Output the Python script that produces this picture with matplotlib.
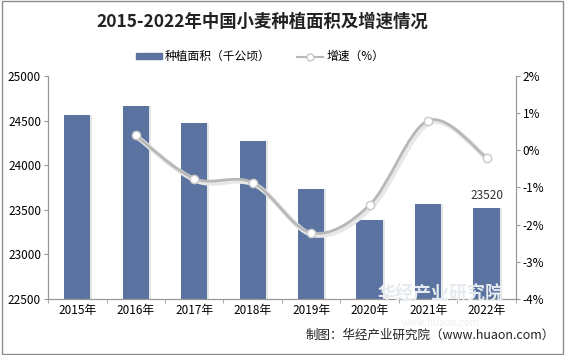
import matplotlib.pyplot as plt
from matplotlib.path import Path
from matplotlib.patches import PathPatch, Rectangle
from matplotlib.lines import Line2D
from matplotlib.ticker import FuncFormatter, MultipleLocator
from matplotlib.transforms import ScaledTranslation
import numpy as np

plt.rcParams['font.family'] = ['Noto Sans CJK SC', 'DejaVu Sans']

years = ["2015年", "2016年", "2017年", "2018年", "2019年", "2020年", "2021年", "2022年"]
area = [24567, 24666, 24478, 24266, 23728, 23380, 23568, 23520]
growth_years = ["2016年", "2017年", "2018年", "2019年", "2020年", "2021年", "2022年"]
growth = [0.40, -0.76, -0.87, -2.22, -1.47, 0.80, -0.20]

BAR = "#5b73a0"
LINE = "#b8b8b8"

fig = plt.figure(figsize=(5.65, 3.55), dpi=100)
fig.patches.append(Rectangle((0.003, 0.003), 0.994, 0.994, transform=fig.transFigure,
                             fill=False, edgecolor="#8c8c8c", lw=1.0))
ax = fig.add_axes([0.085, 0.158, 0.828, 0.628])
ax2 = ax.twinx()

x = np.arange(len(years))
# soft shadow then bars
ax.bar(x + 0.03, area, width=0.45, color="#e6e6e6", zorder=1)
ax.bar(x, area, width=0.45, color=BAR, zorder=2)
ax.set_ylim(22500, 25000)
ax.set_xlim(-0.5, len(years) - 0.5)
ax.yaxis.set_major_locator(MultipleLocator(500))
ax.set_xticks(x)
ax.set_xticklabels(years)
ax.set_xticks(np.arange(-0.5, len(years), 1), minor=True)
ax.tick_params(axis="x", which="major", length=0, labelsize=8.5, pad=4)
ax.tick_params(axis="x", which="minor", length=3, color="#999999")
ax.tick_params(axis="y", labelsize=8.5, length=3, color="#999999", pad=2)
ax.annotate(f"{area[-1]}", (x[-1], area[-1]), xytext=(0, 4), textcoords="offset points",
            ha="center", va="bottom", fontsize=8.5, color="#333333")

# smooth growth curve through the points (Catmull-Rom as bezier)
gx = np.array([years.index(y) for y in growth_years], dtype=float)
gy = np.array(growth)
verts = [(gx[0], gy[0])]
codes = [Path.MOVETO]
for i in range(len(gx) - 1):
    p0 = (gx[i - 1], gy[i - 1]) if i > 0 else (gx[i], gy[i])
    p1 = (gx[i], gy[i])
    p2 = (gx[i + 1], gy[i + 1])
    p3 = (gx[i + 2], gy[i + 2]) if i + 2 < len(gx) else p2
    t = 1 / 6
    c1 = (p1[0] + (p2[0] - p0[0]) * t, p1[1] + (p2[1] - p0[1]) * t)
    c2 = (p2[0] - (p3[0] - p1[0]) * t, p2[1] - (p3[1] - p1[1]) * t)
    verts += [c1, c2, p2]
    codes += [Path.CURVE4] * 3
path = Path(verts, codes)
ax2.add_patch(PathPatch(path, fill=False, edgecolor="#e8e8e8", lw=3.5, zorder=3,
                        transform=ax2.transData + ScaledTranslation(1.5 / 72, -1.5 / 72, fig.dpi_scale_trans)))
ax2.add_patch(PathPatch(path, fill=False, edgecolor=LINE, lw=2, zorder=4))
ax2.plot(gx, gy, "o", ms=6, mfc="white", mec="#c8c8c8", mew=1, zorder=5)
ax2.set_ylim(-4, 2)
ax2.yaxis.set_major_locator(MultipleLocator(1))
ax2.yaxis.set_major_formatter(FuncFormatter(lambda v, p: f"{v:.0f}%"))
ax2.tick_params(axis="y", labelsize=8.5, length=3, color="#999999", pad=2)

for a in (ax, ax2):
    a.spines["top"].set_visible(False)
    for s in ("left", "right", "bottom"):
        a.spines[s].set_color("#999999")
        a.spines[s].set_linewidth(0.8)
ax.set_zorder(ax2.get_zorder() - 1)
ax2.patch.set_visible(False)

fig.text(0.465, 0.94, "2015-2022年中国小麦种植面积及增速情况", ha="center", va="center",
         fontsize=12.5, fontweight="bold", color="#222222")
handles = [Rectangle((0, 0), 1, 1, color=BAR),
           Line2D([0], [0], color=LINE, lw=1.5, marker="o", ms=5, mfc="white", mec="#c8c8c8")]
fig.legend(handles, ["种植面积（千公顷）", "增速（%）"], loc="center", bbox_to_anchor=(0.46, 0.84),
           ncol=2, frameon=False, fontsize=8.5, handlelength=2.2, handleheight=0.5,
           columnspacing=2.2, handletextpad=0.3)

# faint watermark
fig.text(0.78, 0.17, "华经产业研究院", ha="center", va="center", fontsize=13,
         color="#e6ebf0", fontweight="bold", zorder=0)
fig.text(0.78, 0.09, "www.huaon.com", ha="center", va="center", fontsize=7,
         color="#eceff3", zorder=0)
fig.text(0.982, 0.055, "制图：华经产业研究院（www.huaon.com）", ha="right", va="center",
         fontsize=9, color="#222222")

fig.savefig("out.png", dpi=100)
